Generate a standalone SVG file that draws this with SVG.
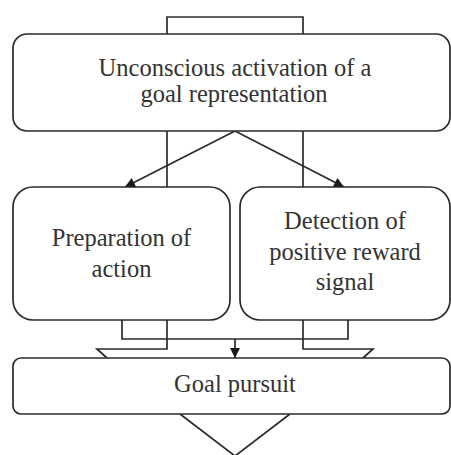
<svg xmlns="http://www.w3.org/2000/svg" width="451" height="455" viewBox="0 0 451 455">
<style>
.ln{fill:none;stroke:#2b2b2b;stroke-width:1.7}
.bx{fill:#fff;stroke:#2b2b2b;stroke-width:1.7}
.t{font-family:"Liberation Serif",serif;font-size:24.5px;fill:#333;text-anchor:middle}
</style>
<defs>
<marker id="ah" viewBox="0 0 10 10" refX="10" refY="5" markerWidth="11" markerHeight="10" markerUnits="userSpaceOnUse" orient="auto">
<path d="M0,0 L10,5 L0,10 z" fill="#1a1a1a"/>
</marker>
</defs>
<g id="connectors">
<path class="ln" d="M167,187 V17 H303 V187"/>
<path class="ln" d="M122,320 V339 H348 V320"/>
<path class="ln" d="M167,320 V349 H97 L107,358"/>
<path class="ln" d="M303,320 V349 H373 L363,358"/>
<path class="ln" d="M180,414 L235,456 L290,414"/>
<line class="ln" x1="235" y1="131" x2="125" y2="187" marker-end="url(#ah)"/>
<line class="ln" x1="235" y1="131" x2="344" y2="187" marker-end="url(#ah)"/>
<line class="ln" x1="235" y1="339" x2="235" y2="358" marker-end="url(#ah)"/>
</g>
<g id="node-activation">
<rect class="bx" x="13" y="34" width="437" height="97" rx="14"/>
<text class="t" x="235" y="76">Unconscious activation of a</text>
<text class="t" x="234" y="102">goal representation</text>
</g>
<g id="node-preparation">
<rect class="bx" x="13" y="187" width="217" height="133" rx="20"/>
<text class="t" x="121.5" y="246">Preparation of</text>
<text class="t" x="121.5" y="277">action</text>
</g>
<g id="node-detection">
<rect class="bx" x="240" y="187" width="210" height="133" rx="20"/>
<text class="t" x="345" y="229">Detection of</text>
<text class="t" x="345" y="260">positive reward</text>
<text class="t" x="345" y="290">signal</text>
</g>
<g id="node-goal">
<rect class="bx" x="13" y="358" width="437" height="56" rx="8"/>
<text class="t" x="235" y="392">Goal pursuit</text>
</g>
</svg>
